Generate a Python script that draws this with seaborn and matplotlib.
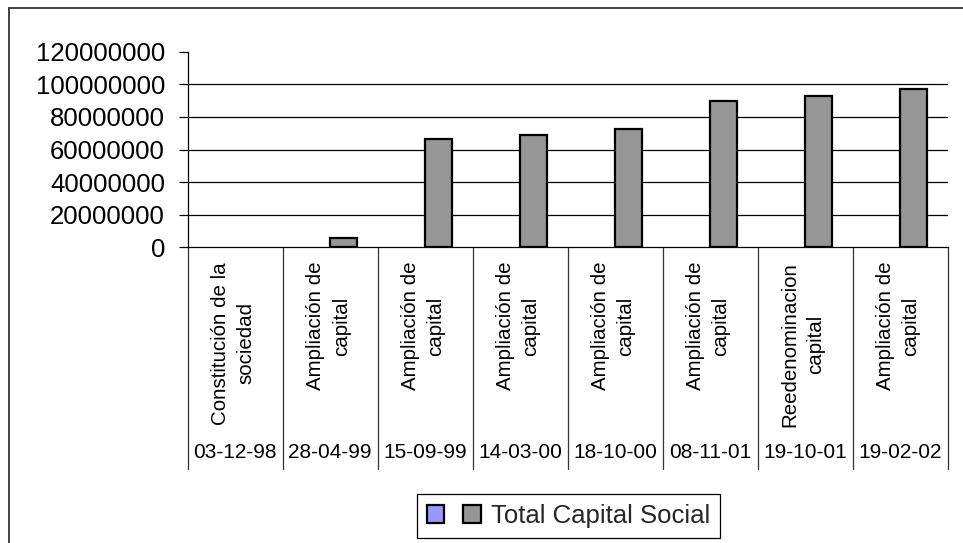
import numpy as np
import pandas as pd
import seaborn as sns
import matplotlib
matplotlib.use("Agg")
import matplotlib.pyplot as plt
from matplotlib.lines import Line2D
from matplotlib.patches import Patch
from matplotlib.ticker import FuncFormatter, MultipleLocator

# --- datos ---
fechas = ["03-12-98", "28-04-99", "15-09-99", "14-03-00",
          "18-10-00", "08-11-01", "19-10-01", "19-02-02"]
conceptos = ["Constitución de la\nsociedad", "Ampliación de\ncapital",
             "Ampliación de\ncapital", "Ampliación de\ncapital",
             "Ampliación de\ncapital", "Ampliación de\ncapital",
             "Reedenominacion\ncapital", "Ampliación de\ncapital"]
serie_vacia = [np.nan, np.nan, np.nan, np.nan, np.nan, np.nan, np.nan, np.nan]
capital_total = [0, 5900000, 66300000, 69100000,
                 72600000, 90000000, 92600000, 97100000]
serie_nombres = ["Serie 1", "Total Capital Social"]
colores = {"Serie 1": "#9999FF", "Total Capital Social": "#969696"}

df = pd.DataFrame({
    "fecha": fechas * 2,
    "valor": serie_vacia + capital_total,
    "serie": [serie_nombres[0]] * len(fechas) + [serie_nombres[1]] * len(fechas),
})

sns.set_theme(style="white")
plt.rcParams["font.family"] = ["Liberation Sans", "DejaVu Sans"]

W, H = 963, 543
fig = plt.figure(figsize=(W / 100, H / 100), dpi=100)
fig.patch.set_facecolor("white")

# plot area in pixels
x0, x1 = 187.7, 947.5
y_top, y_zero = 51.7, 247.3
ax = fig.add_axes([x0 / W, (H - y_zero) / H, (x1 - x0) / W, (y_zero - y_top) / H])
ax.set_facecolor("white")

sns.barplot(data=df, x="fecha", y="valor", hue="serie", order=fechas,
            hue_order=serie_nombres, palette=colores, width=0.57,
            edgecolor="black", linewidth=1.6, legend=False, ax=ax, zorder=3)

# zero-height bars leave no outline on the baseline
for p in ax.patches:
    if not np.isfinite(p.get_height()) or p.get_height() == 0:
        p.set_linewidth(0)

ax.set_ylim(0, 120000000)
ax.set_xlim(-0.5, len(fechas) - 0.5)
ax.yaxis.set_major_locator(MultipleLocator(20000000))
ax.yaxis.set_major_formatter(FuncFormatter(lambda v, p: f"{v:.0f}"))
ax.set_xlabel("")
ax.set_ylabel("")
ax.set_xticks([])

# horizontal gridlines
for v in range(20000000, 120000000, 20000000):
    ax.axhline(v, color="black", lw=0.9, zorder=1)

for side in ["top", "right"]:
    ax.spines[side].set_visible(False)
ax.spines["left"].set_color("black")
ax.spines["left"].set_linewidth(0.9)
ax.spines["bottom"].set_color("black")
ax.spines["bottom"].set_linewidth(0.9)
ax.spines["bottom"].set_zorder(4)

ax.tick_params(axis="y", which="major", left=True, length=6.3, width=0.9,
               color="black", pad=10, labelsize=18.5, labelcolor="black")

# category labels: concept (rotated) and date rows with separators
px_h = y_zero - y_top
trans = ax.get_xaxis_transform()
y_conc = -(262 - y_zero) / px_h
y_fecha = -(453 - y_zero) / px_h
y_sep = -(469 - y_zero) / px_h
for i, (c, f) in enumerate(zip(conceptos, fechas)):
    ax.text(i - 0.02, y_conc, c, transform=trans, rotation=90, ha="center",
            va="top", multialignment="center", fontsize=14.8,
            linespacing=1.45, color="black")
    ax.text(i, y_fecha, f, transform=trans, ha="center", va="center",
            fontsize=15, color="black")
for i in range(len(fechas) + 1):
    ax.plot([i - 0.5, i - 0.5], [0, y_sep], transform=trans, color="#333333",
            lw=0.9, clip_on=False)

# legend
handles = [Patch(facecolor=colores[serie_nombres[0]], edgecolor="black", lw=1.6),
           Patch(facecolor=colores[serie_nombres[1]], edgecolor="black", lw=1.6)]
leg = fig.legend(handles, ["", serie_nombres[1]], loc="center",
                 bbox_to_anchor=(568.5 / W, (H - 516) / H), ncol=2,
                 fontsize=18.5, frameon=True, fancybox=False, shadow=False,
                 handlelength=0.68, handleheight=0.68, handletextpad=0.4,
                 columnspacing=0.35, borderpad=0.38, borderaxespad=0)
leg.get_frame().set_edgecolor("black")
leg.get_frame().set_linewidth(0.9)
leg.get_frame().set_alpha(1)

# chart area frame
fig.add_artist(Line2D([9 / W, 9 / W], [0, 1 - 8 / H], transform=fig.transFigure,
                      color="#222222", lw=1.2))
fig.add_artist(Line2D([9 / W, 1], [1 - 8 / H, 1 - 8 / H], transform=fig.transFigure,
                      color="#222222", lw=1.2))

fig.savefig("out.png", dpi=100)
